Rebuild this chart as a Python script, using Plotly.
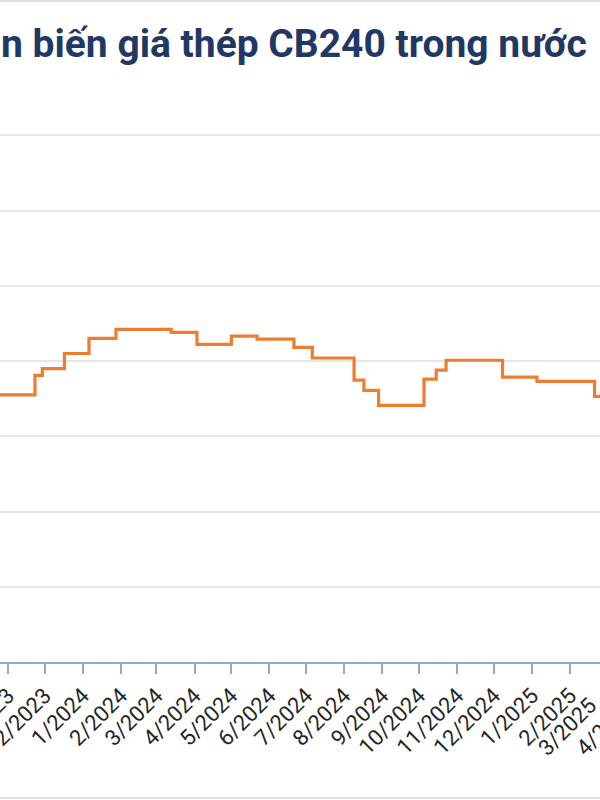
import plotly.graph_objects as go
from datetime import datetime

# Data: dates where the CB240 price changed, and the price (đồng/kg) from that date
change_dates = ["2023-10-01", "2023-11-23", "2023-11-29", "2023-12-17", "2024-01-06",
                "2024-01-28", "2024-03-13", "2024-04-03", "2024-05-01", "2024-05-22",
                "2024-06-21", "2024-07-06", "2024-08-09", "2024-08-17", "2024-08-29",
                "2024-10-05", "2024-10-15", "2024-10-23", "2024-12-08", "2025-01-05",
                "2025-02-21", "2025-04-15"]
prices = [13550, 13810, 13900, 14100, 14300,
          14420, 14380, 14220, 14330, 14290,
          14180, 14040, 13745, 13610, 13410,
          13760, 13880, 14010, 13785, 13730,
          13530, 13530]

month_ticks = ["2023-10-01", "2023-11-01", "2023-12-01", "2024-01-01", "2024-02-01",
               "2024-03-01", "2024-04-01", "2024-05-01", "2024-06-01", "2024-07-01",
               "2024-08-01", "2024-09-01", "2024-10-01", "2024-11-01", "2024-12-01",
               "2025-01-01", "2025-02-01", "2025-03-01", "2025-04-01"]
month_labels = ["10/2023", "11/2023", "12/2023", "1/2024", "2/2024", "3/2024", "4/2024",
                "5/2024", "6/2024", "7/2024", "8/2024", "9/2024", "10/2024", "11/2024",
                "12/2024", "1/2025", "2/2025", "3/2025", "4/2025"]

title_text = "n biến giá thép CB240 trong nước"

x_start = datetime(2023, 10, 25, 12)
x_end = datetime(2025, 2, 25, 10)

W, H = 600, 800
TOP, BOTTOM = 133, 662
PH = BOTTOM - TOP
def py(ypix):
    return (BOTTOM - ypix) / PH

AXIS_COLOR = "#8EA9DB"
LABEL_FONT = dict(family="Roboto", size=22, color="#262626")

fig = go.Figure()
fig.add_trace(go.Scatter(
    x=change_dates, y=prices, mode="lines", line_shape="hv",
    line=dict(color="#ED7D31", width=3.2), showlegend=False, hoverinfo="skip"))

fig.update_layout(
    width=W, height=H,
    margin=dict(l=0, r=0, t=TOP, b=H - BOTTOM, autoexpand=False),
    paper_bgcolor="white", plot_bgcolor="white",
    xaxis=dict(type="date", range=[x_start, x_end], automargin=False,
               tickvals=month_ticks, ticktext=month_labels, tickangle=-45,
               ticklabeloverflow="allow",
               showgrid=False, showline=True, linecolor=AXIS_COLOR, linewidth=2,
               ticks="outside", ticklen=10, tickwidth=2, tickcolor=AXIS_COLOR,
               tickfont=LABEL_FONT, zeroline=False),
    yaxis=dict(range=[10000, 17030], dtick=1000, tick0=10000, automargin=False,
               showticklabels=False, showgrid=True, gridcolor="#E6E6E6",
               gridwidth=2, zeroline=False, showline=False),
    annotations=[dict(text="<b>" + title_text + "</b>", xref="paper", yref="paper",
                      x=0, y=py(44), xanchor="left", yanchor="middle",
                      showarrow=False, borderpad=0,
                      font=dict(family="Roboto", size=39, color="#1F3864"))],
    shapes=[dict(type="line", xref="paper", yref="paper", x0=0, x1=1,
                 y0=py(1), y1=py(1), line=dict(color="#E0E0E0", width=2)),
            dict(type="line", xref="paper", yref="paper", x0=0, x1=1,
                 y0=py(798), y1=py(798), line=dict(color="#E0E0E0", width=2))],
)

# Tick labels for months past the visible range (their start is still visible)
span = (x_end - x_start).total_seconds()
for d, lab in zip(month_ticks, month_labels):
    dt = datetime.fromisoformat(d)
    if dt > x_end:
        px = (dt - x_start).total_seconds() / span
        fig.add_annotation(text=lab, xref="paper", yref="paper", x=px, y=py(690),
                           xanchor="right", yanchor="top", textangle=-45, showarrow=False,
                           font=LABEL_FONT)

fig.write_html("out.html", config={"displayModeBar": False},
               post_script="document.body.style.margin='0';")
